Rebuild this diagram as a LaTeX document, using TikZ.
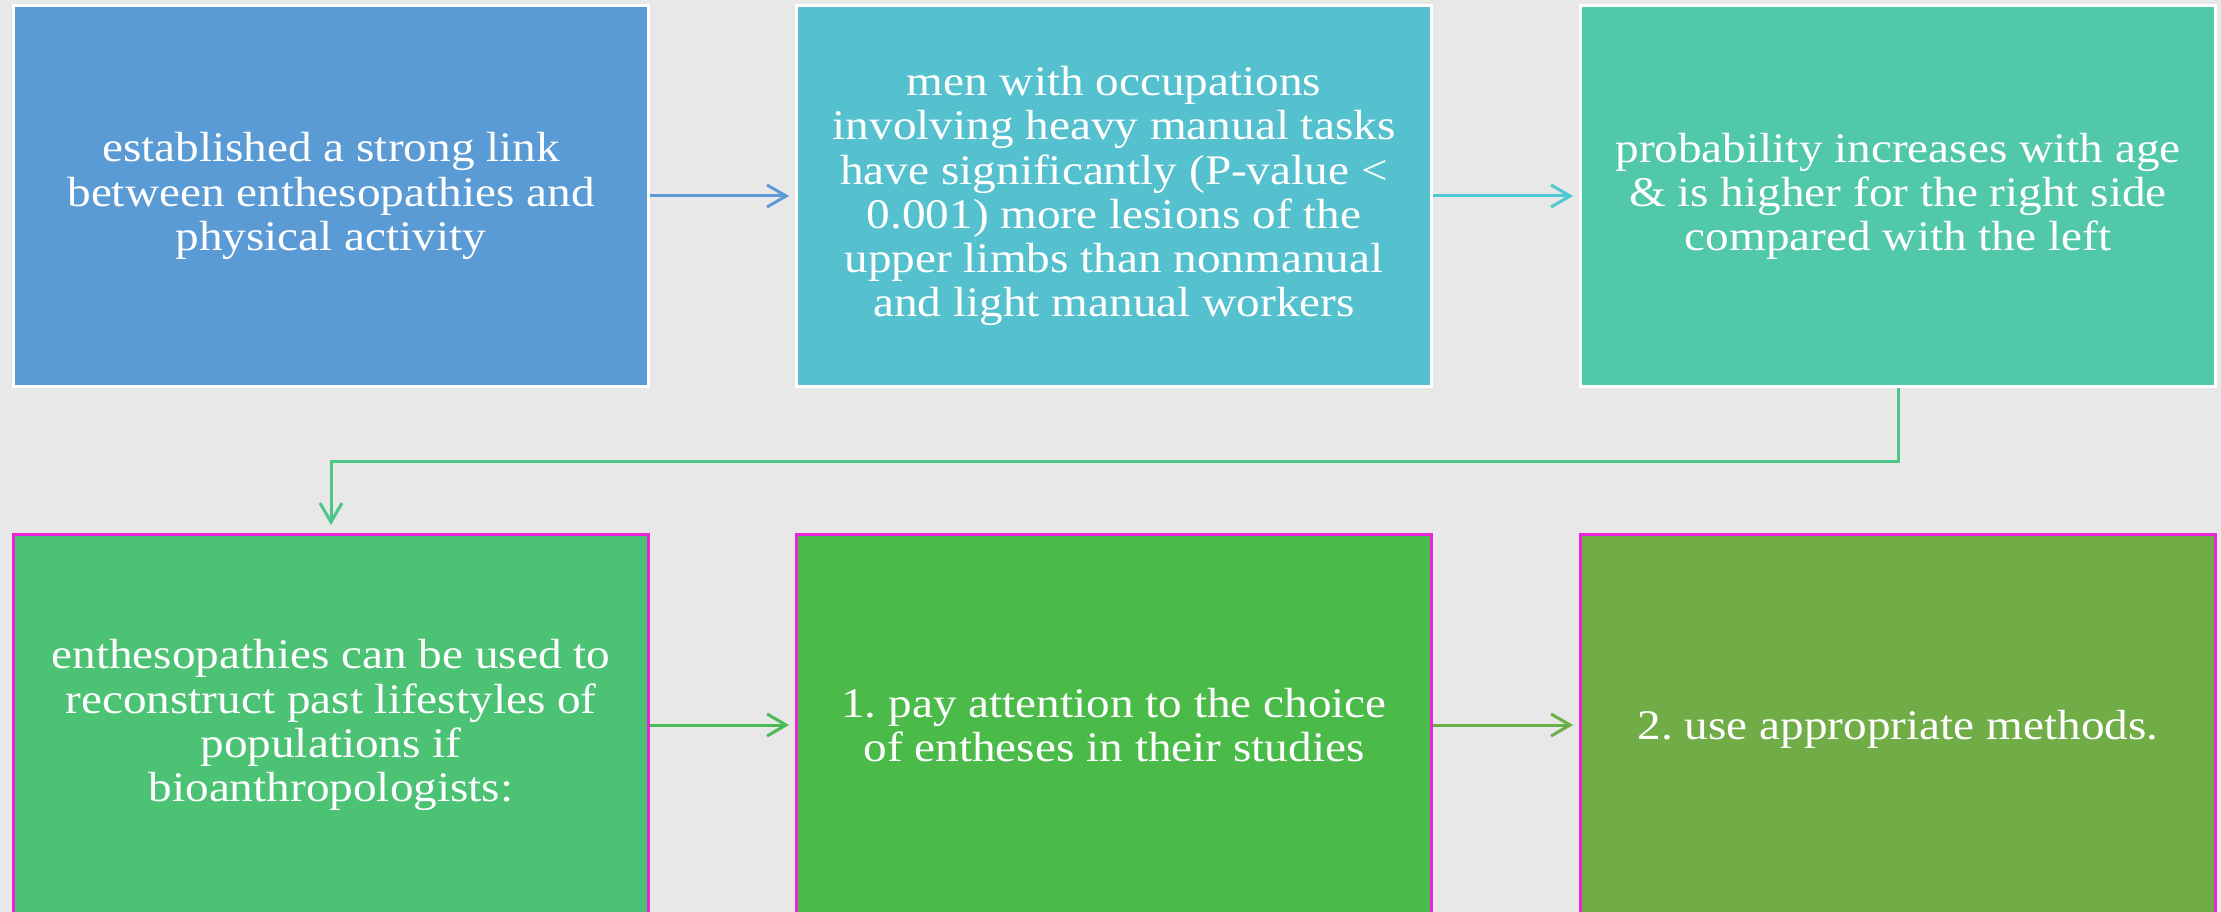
\documentclass[tikz,border=0pt]{standalone}
\usepackage{fontspec}
\setmainfont{Liberation Serif}[FakeStretch=1.12]
\usetikzlibrary{arrows.meta}
\definecolor{bg}{HTML}{E8E8E8}
\definecolor{boxA}{HTML}{5B9BD5}
\definecolor{boxB}{HTML}{55C1CF}
\definecolor{boxC}{HTML}{51C8A9}
\definecolor{boxD}{HTML}{4CC274}
\definecolor{boxE}{HTML}{4ABA48}
\definecolor{boxF}{HTML}{71AD47}
\definecolor{mag}{HTML}{EE22D8}
\definecolor{lnA}{HTML}{5B9BD5}
\definecolor{lnB}{HTML}{50C8D2}
\definecolor{lnC}{HTML}{4DC587}
\definecolor{lnD}{HTML}{4CBB55}
\definecolor{lnE}{HTML}{6BAE4A}
\frenchspacing
\begin{document}
\begin{tikzpicture}[x=0.02cm,y=-0.02cm,
  box/.style={rectangle, minimum width=12.7cm, minimum height=7.62cm,
    inner sep=0pt, text=white, align=center,
    font=\fontsize{24}{25.1}\selectfont, line width=0.06cm,
    execute at begin node={\rule{0pt}{21.5pt}}},
  topbox/.style={box, draw=white},
  botbox/.style={box, draw=mag},
  conn/.style={line width=0.06cm,
    -{Straight Barb[length=0.38cm,width=0.44cm]}, shorten >=0.12cm}]
\fill[bg] (0,0) rectangle (2221,912);
\useasboundingbox (0,0) rectangle (2221,912);

\node[topbox, fill=boxA] (a1) at (331,196)
  {established a strong link\\between enthesopathies and\\physical activity};
\node[topbox, fill=boxB] (a2) at (1114,196)
  {men with occupations\\involving heavy manual tasks\\have significantly (P-value <\\0.001) more lesions of the\\upper limbs than nonmanual\\and light manual workers};
\node[topbox, fill=boxC] (a3) at (1898,196)
  {probability increases with age\\\& is higher for the right side\\compared with the left};

\node[botbox, fill=boxD] (c1) at (331,725)
  {enthesopathies can be used to\\reconstruct past lifestyles of\\populations if\\bioanthropologists:};
\node[botbox, fill=boxE] (c2) at (1114,725)
  {1. pay attention to the choice\\of entheses in their studies};
\node[botbox, fill=boxF] (c3) at (1898,725)
  {2. use appropriate methods.};

\coordinate (k) at (0,461);
\draw[conn, draw=lnA] (a1.east) -- (a2.west);
\draw[conn, draw=lnB] (a2.east) -- (a3.west);
\draw[conn, draw=lnC, shorten >=0.16cm] (a3.south) -- (a3.south |- k) -| (c1.north);
\draw[conn, draw=lnD] (c1.east) -- (c2.west);
\draw[conn, draw=lnE] (c2.east) -- (c3.west);
\end{tikzpicture}
\end{document}
